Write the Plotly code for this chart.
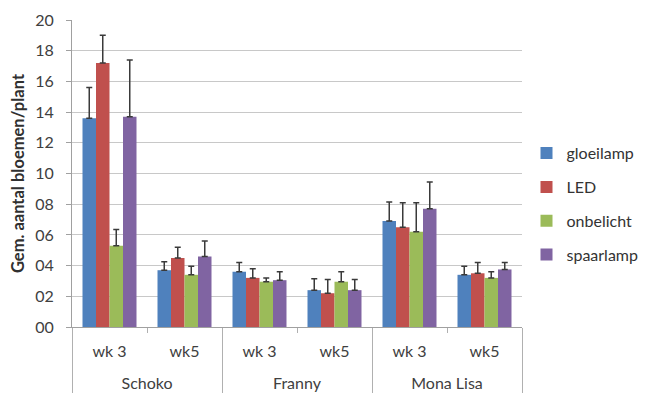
import plotly.graph_objects as go

varieties = ["Schoko", "Schoko", "Franny", "Franny", "Mona Lisa", "Mona Lisa"]
weeks = ["wk 3", "wk5", "wk 3", "wk5", "wk 3", "wk5"]

series_names = ["gloeilamp", "LED", "onbelicht", "spaarlamp"]
colors = ["#4F81BD", "#C0504D", "#9BBB59", "#8064A2"]

gloeilamp = [13.6, 3.7, 3.6, 2.4, 6.9, 3.4]
led = [17.2, 4.5, 3.2, 2.2, 6.5, 3.5]
onbelicht = [5.3, 3.4, 2.95, 2.95, 6.2, 3.2]
spaarlamp = [13.7, 4.6, 3.05, 2.4, 7.7, 3.75]

gloeilamp_err = [2.0, 0.55, 0.6, 0.75, 1.25, 0.55]
led_err = [1.8, 0.7, 0.6, 0.9, 1.6, 0.7]
onbelicht_err = [1.05, 0.55, 0.25, 0.65, 1.9, 0.4]
spaarlamp_err = [3.7, 1.0, 0.55, 0.7, 1.75, 0.45]

values = [gloeilamp, led, onbelicht, spaarlamp]
errors = [gloeilamp_err, led_err, onbelicht_err, spaarlamp_err]

tick_vals = [0, 2, 4, 6, 8, 10, 12, 14, 16, 18, 20]
tick_text = ["00", "02", "04", "06", "08", "10", "12", "14", "16", "18", "20"]

font_family = "Lato, 'Open Sans', sans-serif"

# outer label pushed down by a blank first line to mimic the spacing
outer_labels = ["<br>" + v for v in varieties]

fig = go.Figure()
for i, name in enumerate(series_names):
    fig.add_trace(go.Bar(
        x=[outer_labels, weeks],
        y=values[i],
        name=name,
        legendgroup=name,
        marker=dict(color=colors[i], line=dict(width=0)),
        error_y=dict(type="data", array=errors[i], arrayminus=[0] * 6,
                     symmetric=False, color="#3a3a3a", thickness=1.5, width=3),
    ))

# page body has an 8px margin, so the figure is sized/offset to compensate
fig.update_layout(
    width=642, height=391,
    margin=dict(l=64, r=128, t=12, b=72, autoexpand=False),
    paper_bgcolor="white", plot_bgcolor="white",
    barmode="group", bargap=0.28, bargroupgap=0,
    font=dict(family=font_family, size=16, color="#404040"),
    showlegend=True,
    legend=dict(x=1.01, xanchor="left", y=0.40, yanchor="middle",
                traceorder="grouped", tracegroupgap=10,
                font=dict(size=16, color="#333333"), itemwidth=30),
    yaxis=dict(range=[0, 20], tickvals=tick_vals, ticktext=tick_text,
               showgrid=True, gridcolor="#c8c8c8", gridwidth=1,
               showline=True, linecolor="#a0a0a0", linewidth=1,
               ticks="outside", ticklen=5, tickcolor="#a0a0a0",
               ticklabelstandoff=9,
               tickfont=dict(size=16, color="#404040"),
               title=dict(text="<b>Gem. aantal bloemen/plant</b>",
                          font=dict(size=16.5, color="#303030"), standoff=8),
               zeroline=False),
    xaxis=dict(type="multicategory", showline=True, linecolor="#a0a0a0",
               linewidth=1, showdividers=True, dividercolor="#b0b0b0",
               dividerwidth=1, tickfont=dict(size=16, color="#404040"),
               ticklabelstandoff=10,
               ticks="outside", ticklen=5, tickcolor="#b0b0b0"),
)

fig.write_html("out.html")
